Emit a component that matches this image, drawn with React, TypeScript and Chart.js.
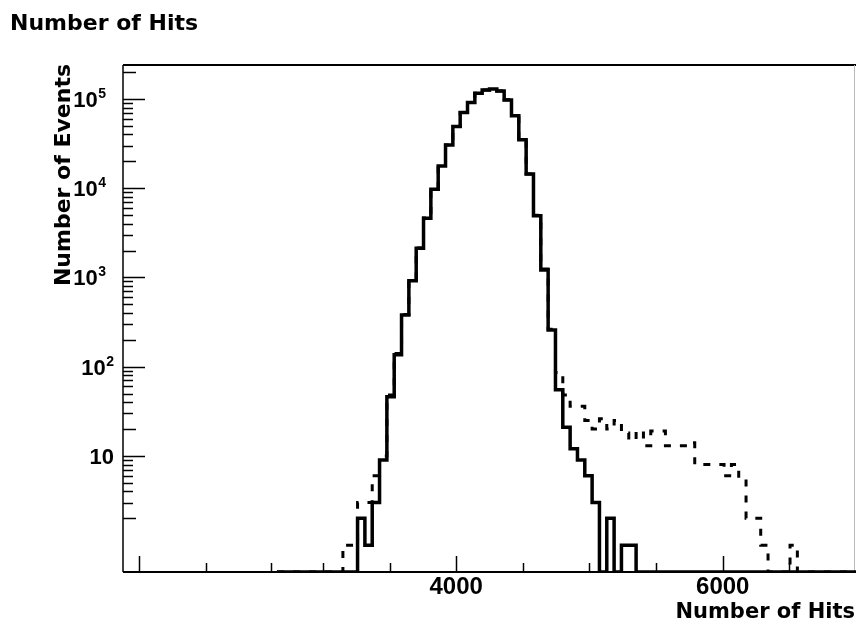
import React, { useEffect, useRef } from 'react';
import { Chart, registerables } from 'chart.js';

Chart.register(...registerables);

// Histogram binning (Number of Hits)
const BIN_START = 1500;
const BIN_WIDTH = 55;
const FIRST_BIN = 21; // first drawn bin index (x = 2655)

// Solid histogram: bin contents from bin 21 to bin 99
const selectedEvents = [
  0, 0, 0, 0, 0, 0, 0, 0, 0, 0, 0,
  2, 1, 3, 9, 46, 136, 380, 920,
  2120, 4600, 9700, 17700, 30500, 49000, 70300, 91000, 116000, 126000,
  129000, 123000, 97500, 64600, 34800, 14400, 4920, 1210, 258, 55,
  21, 12, 9, 6, 3, 0, 2, 0, 1, 1,
  0, 0, 0, 0, 0, 0, 0, 0, 0, 0, 0, 0, 0, 0, 0,
  0, 0, 0, 0, 0, 0, 0, 0, 0, 0, 0, 0, 0, 0, 0,
];

// Dashed histogram: bin contents from bin 21 to bin 99
const allEvents = [
  0, 0, 0, 0, 0, 0, 0, 0, 0,
  1, 1, 3, 3, 6, 10, 48, 140, 385, 930,
  2140, 4620, 9730, 17750, 30550, 49050, 70400, 91100, 116100, 126100,
  129100, 123100, 97600, 64700, 34900, 14450, 4960, 1240, 262, 86,
  48, 36, 36, 25, 20, 26, 20, 25, 18, 15,
  19, 13, 19, 19, 13, 13, 13, 14, 8, 8,
  8, 8, 6, 8, 5.5, 2, 2, 1, 0, 0,
  0, 1,
  0, 0, 0, 0, 0, 0, 0, 0,
];

const X_MIN = 1500;
const X_MAX = 7000;
const Y_MIN = 0.5;
const Y_MAX = 2.4e5;

const xLabelValues = [4000, 6000];
const xMajorTicks = [1620, 4000, 6000];
const xMinorTicks = [2120, 2610, 3000, 3500, 4500, 5000, 5500, 6500];

const yLabelValues = [10, 100, 1000, 10000, 100000];
const yLabelExponents = ['', '2', '3', '4', '5'];
const yDecades = [1, 10, 100, 1000, 10000, 100000];
const yMinorMultipliers = [2, 3, 4, 5, 6, 7, 8, 9];

const TITLE = 'Number of Hits';
const X_TITLE = 'Number of Hits';
const Y_TITLE = 'Number of Events';

function toSteps(values: number[]) {
  const pts = values.map((v, i) => ({
    x: BIN_START + (FIRST_BIN + i) * BIN_WIDTH,
    y: v > 0 ? v : Y_MIN,
  }));
  const last = values[values.length - 1];
  pts.push({ x: BIN_START + (FIRST_BIN + values.length) * BIN_WIDTH, y: last > 0 ? last : Y_MIN });
  return pts;
}

const framePlugin = {
  id: 'rootFrame',
  beforeDatasetsDraw(chart: any) {
    const { ctx, chartArea: a, scales } = chart;
    const xs = scales.x;
    const ys = scales.y;
    ctx.save();
    ctx.strokeStyle = '#000';
    // frame
    ctx.lineWidth = 2;
    ctx.beginPath();
    ctx.moveTo(a.left, a.top);
    ctx.lineTo(a.right, a.top);
    ctx.stroke();
    ctx.beginPath();
    ctx.moveTo(a.left, a.bottom);
    ctx.lineTo(a.right, a.bottom);
    ctx.stroke();
    ctx.lineWidth = 1.5;
    ctx.beginPath();
    ctx.moveTo(a.left, a.top);
    ctx.lineTo(a.left, a.bottom);
    ctx.stroke();
    ctx.strokeStyle = '#bbb';
    ctx.lineWidth = 1;
    ctx.beginPath();
    ctx.moveTo(a.right - 1.5, a.top);
    ctx.lineTo(a.right - 1.5, a.bottom);
    ctx.stroke();
    // x ticks (inward)
    ctx.strokeStyle = '#000';
    ctx.lineWidth = 1.5;
    const xt = (v: number, len: number) => {
      const px = Math.round(xs.getPixelForValue(v)) + 0.5;
      ctx.beginPath();
      ctx.moveTo(px, a.bottom);
      ctx.lineTo(px, a.bottom - len);
      ctx.stroke();
    };
    xMajorTicks.forEach((v) => xt(v, 16));
    xMinorTicks.forEach((v) => xt(v, 9));
    // y ticks (inward)
    const yt = (v: number, len: number) => {
      if (v <= Y_MIN || v >= Y_MAX) return;
      const py = Math.round(ys.getPixelForValue(v)) + 0.5;
      ctx.beginPath();
      ctx.moveTo(a.left, py);
      ctx.lineTo(a.left + len, py);
      ctx.stroke();
    };
    yLabelValues.forEach((v) => yt(v, 22));
    yDecades.forEach((d) => yMinorMultipliers.forEach((m) => yt(m * d, m === 2 ? 13 : 10)));
    ctx.restore();
  },
};

const textPlugin = {
  id: 'rootText',
  afterDraw(chart: any) {
    const { ctx, scales } = chart;
    const xs = scales.x;
    const ys = scales.y;
    ctx.save();
    ctx.fillStyle = '#000';
    ctx.textBaseline = 'alphabetic';
    // main title
    ctx.font = 'bold 22px "DejaVu Sans"';
    ctx.textAlign = 'left';
    ctx.fillText(TITLE, 10, 30);
    // x title
    ctx.font = 'bold 21px "DejaVu Sans"';
    ctx.textAlign = 'right';
    ctx.fillText(X_TITLE, 855, 618);
    // y title
    ctx.save();
    ctx.translate(70, 64);
    ctx.rotate(-Math.PI / 2);
    ctx.font = 'bold 22px "DejaVu Sans"';
    ctx.textAlign = 'right';
    ctx.fillText(Y_TITLE, 0, 0);
    ctx.restore();
    // x tick labels
    ctx.font = 'bold 24px "Liberation Sans"';
    ctx.textAlign = 'center';
    xLabelValues.forEach((v) => {
      ctx.fillText(String(v), xs.getPixelForValue(v), 594);
    });
    // y tick labels
    yLabelValues.forEach((v, i) => {
      const exp = yLabelExponents[i];
      const py = ys.getPixelForValue(v);
      const right = exp === '' || exp === '2' ? 114 : 106;
      ctx.font = 'bold 14px "Liberation Sans"';
      const ew = exp ? ctx.measureText(exp).width + 0.5 : 0;
      if (exp) {
        ctx.textAlign = 'right';
        ctx.fillText(exp, right, py - 1);
      }
      ctx.font = 'bold 22px "Liberation Sans"';
      ctx.textAlign = 'right';
      ctx.fillText('10', right - ew, py + 8);
    });
    ctx.restore();
  },
};

export default function App() {
  const ref = useRef<HTMLCanvasElement | null>(null);
  useEffect(() => {
    if (!ref.current) return;
    const chart = new Chart(ref.current, {
      type: 'line',
      data: {
        datasets: [
          {
            label: 'selected',
            data: toSteps(selectedEvents),
            borderColor: '#000',
            borderWidth: 3.5,
            stepped: 'before',
            pointRadius: 0,
            fill: false,
            borderJoinStyle: 'miter',
            borderCapStyle: 'butt',
          },
          {
            label: 'all',
            data: toSteps(allEvents),
            borderColor: '#000',
            borderWidth: 3,
            borderDash: [7, 9],
            stepped: 'before',
            pointRadius: 0,
            fill: false,
            borderJoinStyle: 'miter',
            borderCapStyle: 'butt',
          },
        ],
      },
      options: {
        responsive: false,
        animation: false,
        devicePixelRatio: 1,
        layout: { padding: { left: 123, top: 65, right: 0, bottom: 52 } },
        plugins: {
          legend: { display: false },
          title: { display: false },
          tooltip: { enabled: false },
        },
        scales: {
          x: { type: 'linear', min: X_MIN, max: X_MAX, display: false },
          y: { type: 'logarithmic', min: Y_MIN, max: Y_MAX, display: false },
        },
      },
      plugins: [framePlugin, textPlugin],
    } as any);
    return () => chart.destroy();
  }, []);
  return (
    <div style={{ position: 'fixed', left: 0, top: 0, width: 856, height: 624, background: '#fff' }}>
      <canvas ref={ref} width={856} height={624} style={{ width: 856, height: 624, display: 'block' }} />
    </div>
  );
}
